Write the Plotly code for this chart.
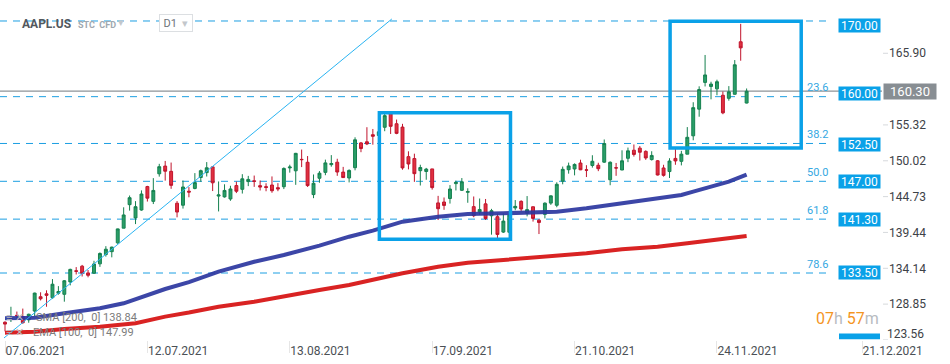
import pandas as pd
import plotly.graph_objects as go

# ---------------- data ----------------
holidays = ["2021-07-05", "2021-09-06", "2021-11-25"]
dates = [d for d in pd.bdate_range("2021-06-07", "2021-12-02") if d.strftime("%Y-%m-%d") not in holidays]
date_labels = [d.strftime("%d.%m.%Y") for d in dates]

open_ = [126.17, 126.60, 127.21, 127.02, 126.53, 127.82, 129.94, 130.37, 129.80, 130.46,
         130.30, 132.13, 133.77, 134.45, 133.46, 133.41, 134.80, 136.17, 136.60, 137.90,
         140.07, 143.54, 141.58, 142.75, 146.21, 144.03, 148.10, 149.24, 148.46, 143.75,
         143.46, 145.53, 145.94, 147.55, 148.27, 149.12, 144.81, 144.69, 144.38, 146.36,
         145.81, 146.95, 147.06, 146.35, 146.20, 146.44, 146.05, 146.19, 148.97, 148.54,
         150.23, 149.80, 145.03, 147.44, 148.31, 149.45, 149.81, 148.35, 147.48, 149.00,
         152.66, 152.83, 153.87, 153.76, 154.97, 156.98, 155.49, 155.00, 150.63, 150.35,
         148.56, 148.44, 148.82, 143.80, 143.93, 144.45, 146.65, 145.66, 145.37, 143.25,
         142.47, 143.66, 141.90, 141.76, 139.49, 139.47, 143.06, 144.03, 142.27, 143.23,
         141.24, 142.11, 143.77, 143.45, 147.01, 148.70, 148.81, 149.69, 148.68, 149.33,
         149.36, 149.82, 147.22, 148.99, 148.66, 150.39, 151.58, 151.89, 151.41, 150.20,
         150.02, 148.96, 148.43, 150.37, 149.94, 151.00, 153.71, 157.65, 161.60, 161.00,
         160.65, 159.70, 159.25, 159.85, 167.60, 158.55]
high = [126.32, 128.46, 127.75, 128.19, 127.44, 130.54, 130.60, 130.89, 132.55, 131.51,
        132.41, 134.08, 134.32, 134.64, 133.89, 135.25, 136.49, 137.41, 137.33, 140.00,
        143.15, 144.89, 144.06, 145.65, 146.32, 147.46, 149.57, 150.00, 149.76, 144.07,
        147.10, 146.13, 148.20, 148.72, 149.83, 149.21, 146.97, 146.55, 146.33, 146.95,
        148.04, 147.79, 147.84, 147.11, 146.70, 147.71, 146.72, 149.05, 149.44, 151.19,
        151.68, 150.72, 148.00, 148.50, 150.19, 150.86, 150.32, 149.12, 148.75, 153.49,
        152.80, 154.98, 154.72, 154.63, 157.26, 157.04, 156.11, 155.48, 151.42, 151.07,
        149.44, 148.97, 148.82, 144.84, 144.60, 146.43, 147.08, 147.47, 145.96, 144.75,
        144.45, 144.38, 142.92, 142.21, 142.24, 142.15, 144.22, 144.18, 144.81, 143.25,
        141.40, 143.88, 144.90, 146.84, 149.17, 149.75, 149.64, 150.18, 149.37, 150.84,
        149.73, 153.17, 149.94, 149.70, 151.57, 151.97, 152.43, 152.20, 151.57, 151.43,
        150.13, 149.43, 150.40, 151.88, 151.49, 155.00, 158.67, 161.02, 165.65, 161.70,
        162.00, 160.25, 161.05, 164.90, 170.25, 160.70]
low = [124.83, 126.21, 126.52, 125.94, 126.10, 127.07, 129.39, 128.46, 129.65, 130.24,
       129.21, 131.62, 133.23, 132.93, 132.81, 133.35, 134.35, 135.87, 135.76, 137.75,
       140.07, 142.66, 140.67, 142.65, 144.00, 143.63, 147.68, 147.09, 145.88, 141.67,
       142.96, 144.63, 145.81, 146.92, 147.70, 145.55, 142.54, 144.58, 144.11, 145.25,
       145.18, 146.28, 146.17, 145.63, 145.52, 145.30, 145.53, 145.84, 148.27, 146.47,
       149.09, 146.15, 144.50, 146.78, 147.89, 149.15, 147.80, 147.51, 146.83, 148.61,
       151.29, 152.34, 152.40, 153.09, 154.39, 153.98, 153.95, 148.70, 148.75, 146.91,
       146.37, 147.22, 145.76, 141.27, 142.78, 143.70, 145.64, 145.56, 143.82, 141.69,
       142.03, 141.28, 139.11, 138.27, 139.36, 138.37, 142.72, 142.56, 141.81, 141.04,
       139.20, 141.51, 143.51, 143.16, 146.55, 148.12, 147.87, 148.64, 147.62, 149.01,
       148.49, 149.72, 146.41, 147.80, 148.65, 149.82, 150.64, 150.06, 150.16, 150.06,
       147.85, 147.68, 147.48, 149.43, 149.34, 150.99, 153.05, 156.53, 161.00, 159.10,
       159.70, 156.90, 158.90, 159.80, 164.80, 158.50]
close = [125.90, 126.74, 127.13, 126.11, 127.35, 130.48, 129.64, 130.15, 131.79, 130.71,
         132.30, 133.98, 133.70, 133.41, 133.11, 134.78, 136.33, 136.96, 137.27, 139.96,
         142.02, 144.57, 143.24, 145.11, 144.50, 145.64, 149.15, 148.48, 146.39, 142.45,
         146.15, 145.40, 146.80, 148.56, 148.99, 146.77, 144.98, 145.64, 145.86, 145.52,
         147.36, 147.27, 146.98, 146.14, 146.09, 145.60, 145.86, 148.89, 149.10, 151.12,
         150.19, 146.36, 146.70, 148.19, 149.71, 149.62, 148.36, 147.54, 148.60, 153.12,
         151.83, 152.51, 153.65, 154.30, 156.69, 155.11, 154.07, 148.97, 149.55, 148.12,
         149.03, 148.79, 146.06, 142.94, 143.43, 145.85, 146.83, 146.92, 145.47, 141.91,
         142.83, 141.50, 142.65, 139.14, 141.11, 142.00, 143.29, 142.90, 142.81, 141.51,
         140.91, 143.76, 144.84, 146.55, 148.76, 149.26, 149.48, 148.69, 148.64, 149.95,
         148.85, 152.57, 149.80, 148.96, 150.02, 151.49, 150.96, 151.28, 150.44, 150.81,
         147.92, 147.87, 149.99, 150.00, 151.00, 153.49, 157.87, 160.55, 162.70, 161.35,
         161.70, 157.10, 160.20, 164.20, 166.70, 160.30]

# indicator lines (bar index, value)
ema_bars = [0, 5, 10, 16, 20, 24, 27, 31, 36, 42, 47, 53, 58, 62, 67, 73, 78, 84, 93, 98, 104, 110, 114, 116, 120, 122, 125]
ema_vals = [126.76, 126.85, 127.5, 128.23, 128.97, 130.2, 131.08, 132.1, 133.64, 135.1, 136.1, 137.48, 138.81, 139.7,
            141.03, 141.76, 142.16, 142.27, 142.5, 143.0, 143.74, 144.48, 144.97, 145.46, 146.45, 146.93, 147.99]
sma_bars = [0, 5, 10, 16, 22, 27, 31, 36, 42, 47, 53, 58, 62, 67, 73, 78, 84, 93, 98, 104, 110, 115, 121, 125]
sma_vals = [124.63, 124.78, 125.18, 125.52, 126.02, 127.0, 127.6, 128.47, 129.21, 130.05, 130.94, 131.68, 132.45,
            133.4, 134.38, 134.97, 135.37, 135.96, 136.36, 136.95, 137.33, 137.83, 138.43, 138.9]

legend_texts = ["SMA [200,  0] 138.84", "EMA [100,  0] 147.99"]

# fibonacci retracement drawing
fib_high, fib_low = 170.67, 123.31
fib_ratios = [0.0, 23.6, 38.2, 50.0, 61.8, 78.6, 100.0]
fib_ratio_labels = ["", "23.6", "38.2", "50.0", "61.8", "78.6", ""]
fib_box_values = [170.00, 160.00, 152.50, 147.00, 141.30, 133.50, 123.50]

current_price = 160.30
y_ticks = [128.85, 134.14, 139.44, 144.73, 150.02, 155.32, 165.90]
y_tick_bottom = 123.56
x_tick_bars = [0, 24, 48, 72, 96, 120]
axis_end_label = "21.12.2021"

# drawings (bar index / price)
trend_line = [(-0.17, 123.85), (65.2, 170.97)]
boxes = [(63.1, 85.2, 157.13, 138.43), (112.1, 134.2, 170.63, 151.91)]

# ---------------- figure ----------------
W, H = 950, 364
ML, MR, MT, MB = 0, 21, 0, 24
PW, PH = W - ML - MR, H - MT - MB
BAR0_PX, BAR_PX = 5.0, 5.933
X_RANGE = [(0 - BAR0_PX) / BAR_PX, (PW - BAR0_PX) / BAR_PX]
Y_RANGE = [123.55, 173.77]


def px_x(x):
    return x / PW


def px_y(y):
    return 1 - y / PH


def bar_at(x):
    return (x - BAR0_PX) / BAR_PX


bars = list(range(len(open_)))
BLUE = "#0aa1e8"

fig = go.Figure()
fig.add_trace(go.Candlestick(
    x=bars, open=open_, high=high, low=low, close=close,
    increasing=dict(line=dict(color="#15804f", width=1), fillcolor="#2a9e68"),
    decreasing=dict(line=dict(color="#c0142c", width=1), fillcolor="#e0303f"),
    whiskerwidth=0, showlegend=False, hoverinfo="skip"))
fig.add_trace(go.Scatter(x=sma_bars, y=sma_vals, mode="lines", line=dict(color="#d81818", width=4),
                         opacity=0.95, showlegend=False, hoverinfo="skip"))
fig.add_trace(go.Scatter(x=ema_bars, y=ema_vals, mode="lines", line=dict(color="#2c37a0", width=4),
                         opacity=0.92, showlegend=False, hoverinfo="skip"))

shapes = []
annotations = []

# fib lines + labels
for r, lab, bv in zip(fib_ratios, fib_ratio_labels, fib_box_values):
    lvl = fib_high - (fib_high - fib_low) * r / 100.0
    shapes.append(dict(type="line", xref="paper", yref="y", x0=0, x1=px_x(827), y0=lvl, y1=lvl,
                       line=dict(color="#1c9fe2", width=1, dash="7px,6px"), layer="below"))
    if lab:
        annotations.append(dict(xref="paper", yref="y", x=px_x(830), y=lvl, yshift=9, text=lab,
                                showarrow=False, xanchor="right", yanchor="middle",
                                font=dict(size=11, color="#35a8e2")))
    if bv > Y_RANGE[0] + 1:
        annotations.append(dict(xref="paper", yref="y", x=px_x(859.5), y=bv, text=f"{bv:.2f}",
                                showarrow=False, xanchor="center", yanchor="middle", width=41, height=13,
                                bgcolor=BLUE, borderpad=0, font=dict(size=12, color="white")))
    else:
        # box mostly hidden below the plot: only its top sliver shows
        shapes.append(dict(type="rect", xref="paper", yref="y", x0=px_x(839), x1=px_x(880),
                           y0=Y_RANGE[0] + 0.1, y1=bv + 1.0, fillcolor=BLUE, line=dict(width=0), layer="above"))

# current price line and label
shapes.append(dict(type="line", xref="paper", yref="y", x0=0, x1=px_x(882), y0=current_price, y1=current_price,
                   line=dict(color="#8e9398", width=1.2), layer="below"))
annotations.append(dict(xref="paper", yref="y", x=px_x(910), y=current_price, text=f"{current_price:.2f}",
                        showarrow=False, xanchor="center", yanchor="middle", width=52, height=15,
                        bgcolor="#888e93", borderpad=0, font=dict(size=13, color="white")))

# y tick dashes
for t in y_ticks + [y_tick_bottom]:
    shapes.append(dict(type="line", xref="paper", yref="y", x0=px_x(883), x1=px_x(888), y0=t, y1=t,
                       line=dict(color="#d6d9dc", width=1)))
# bottom-most price label (sits just above the time axis)
annotations.append(dict(xref="paper", yref="y", x=px_x(926), y=y_tick_bottom, yshift=6, text=f"{y_tick_bottom:.2f}",
                        showarrow=False, xanchor="right", yanchor="middle", font=dict(size=12, color="#3d4247")))

# trend line
shapes.append(dict(type="line", xref="x", yref="y", x0=trend_line[0][0], y0=trend_line[0][1],
                   x1=trend_line[1][0], y1=trend_line[1][1], line=dict(color="#2ab4f2", width=1), layer="above"))

# boxes
for x0, x1, y0, y1 in boxes:
    shapes.append(dict(type="rect", xref="x", yref="y", x0=x0, x1=x1, y0=y0, y1=y1,
                       line=dict(color=BLUE, width=3.5), fillcolor="rgba(0,0,0,0)", layer="above"))

# header
annotations.append(dict(xref="paper", yref="paper", x=px_x(20), y=px_y(24), text="<b>AAPL.US</b>",
                        showarrow=False, xanchor="left", yanchor="middle", font=dict(size=12, color="#52585e")))
annotations.append(dict(xref="paper", yref="paper", x=px_x(76), y=px_y(25), text="<b>STC  CFD</b>",
                        showarrow=False, xanchor="left", yanchor="middle", font=dict(size=9, color="#a0a8b0")))
annotations.append(dict(xref="paper", yref="paper", x=px_x(121), y=px_y(23), text="▾",
                        showarrow=False, xanchor="center", yanchor="middle", font=dict(size=11, color="#c3c7cb")))
annotations.append(dict(xref="paper", yref="paper", x=px_x(175.5), y=px_y(23.5),
                        text="D1  <span style='color:#c3c7cb'>▾</span>",
                        showarrow=False, xanchor="center", yanchor="middle", width=30, height=14,
                        bgcolor="white", bordercolor="#dcdfe2", borderwidth=1, borderpad=1,
                        font=dict(size=11, color="#6d7379")))

# legend texts
annotations.append(dict(xref="paper", yref="paper", x=px_x(4), y=px_y(317), text="≡ ✕",
                        showarrow=False, xanchor="left", yanchor="middle", font=dict(size=11, color="#b9b9b9")))
annotations.append(dict(xref="paper", yref="paper", x=px_x(4), y=px_y(332), text="≡ ✕",
                        showarrow=False, xanchor="left", yanchor="middle", font=dict(size=11, color="#b9b9b9")))
annotations.append(dict(xref="paper", yref="paper", x=px_x(34), y=px_y(317), text=legend_texts[0],
                        showarrow=False, xanchor="left", yanchor="middle", font=dict(size=11, color="#7c7c7c")))
annotations.append(dict(xref="paper", yref="paper", x=px_x(31), y=px_y(332), text=legend_texts[1],
                        showarrow=False, xanchor="left", yanchor="middle", font=dict(size=11, color="#7c7c7c")))

# countdown
annotations.append(dict(xref="paper", yref="paper", x=px_x(881), y=px_y(318),
                        text="<span style='color:#f4951f'>07</span><span style='color:#b7bbbf'>h</span> "
                             "<span style='color:#f4951f'>57</span><span style='color:#b7bbbf'>m</span>",
                        showarrow=False, xanchor="right", yanchor="middle", font=dict(size=16)))

tickvals = x_tick_bars + [bar_at(862)]
ticktext = [date_labels[i] for i in x_tick_bars] + [axis_end_label]

fig.update_layout(
    width=W, height=H, margin=dict(l=ML, r=MR, t=MT, b=MB),
    paper_bgcolor="white", plot_bgcolor="white", showlegend=False,
    font=dict(family="Roboto, Arial, sans-serif"),
    shapes=shapes, annotations=annotations,
    xaxis=dict(range=X_RANGE, showgrid=False, zeroline=False, showline=False,
               tickvals=tickvals, ticktext=ticktext, ticklabelposition="outside right",
               ticks="outside", ticklen=12, tickcolor="#e6e6e6",
               tickfont=dict(size=12, color="#4b5055"), rangeslider=dict(visible=False), fixedrange=True),
    yaxis=dict(range=Y_RANGE, side="right", showgrid=False, zeroline=False, showline=False,
               tickvals=y_ticks, ticktext=[f"{t:.2f}" for t in y_ticks],
               ticklabelposition="inside", ticklabeloverflow="allow", ticks="",
               tickfont=dict(size=12, color="#3d4247"), fixedrange=True),
)

fig.write_html("out.html", config={"displayModeBar": False},
               post_script="document.body.style.margin='0';document.body.style.overflow='hidden';")
